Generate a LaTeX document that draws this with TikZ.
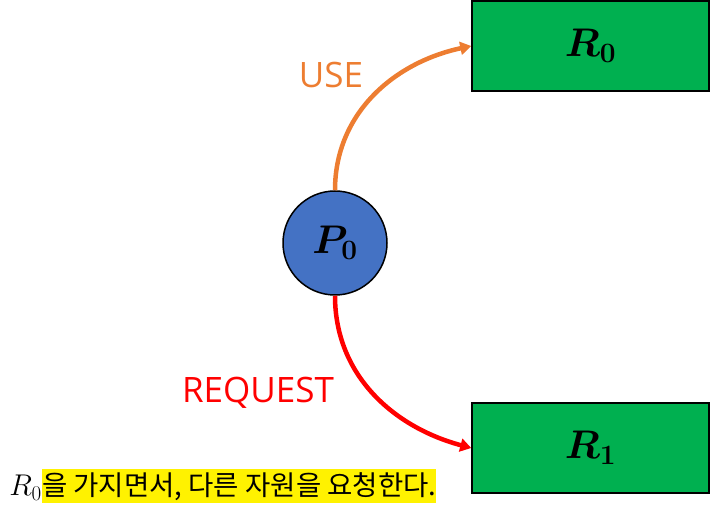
\RequirePackage{fix-cm}
\documentclass[tikz,border=0pt]{standalone}
\usepackage{amsmath}
\usepackage{amssymb}
\usepackage{fontspec}
\setsansfont{Open Sans}
\newfontfamily\kofont{Noto Sans CJK KR}
\usepackage{tikz}
\usetikzlibrary{arrows.meta}
\definecolor{useorange}{HTML}{ED7D31}
\definecolor{reqred}{HTML}{FF0000}
\definecolor{procblue}{HTML}{4472C4}
\definecolor{resgreen}{HTML}{00B050}
\newcommand{\bigsize}{\fontsize{40}{44}\selectfont}

\begin{document}
\begin{tikzpicture}[x=1pt,y=1pt,
  res/.style={draw,line width=1.5pt,fill=resgreen,minimum width=237pt,minimum height=90pt,inner sep=0pt},
  edge/.style={line width=4.5pt,-{Triangle[length=11pt,width=13pt]}}]
\useasboundingbox (0,0) rectangle (710,517);
\node[circle,draw,line width=1.5pt,fill=procblue,minimum size=104pt,inner sep=0pt] (p0) at (335,274) {\bigsize$\boldsymbol{P_0}$};
\node[res] (r0) at (590.5,471) {\bigsize$\boldsymbol{R_0}$};
\node[res] (r1) at (590.5,69) {\bigsize$\boldsymbol{R_1}$};
\draw[edge,useorange] (p0.north) to[out=90,in=192] (r0.west);
\draw[edge,reqred] (p0.south) to[out=-90,in=165] (r1.west);
\node[text=useorange,font=\sffamily\fontsize{35}{40}\selectfont] (use) at (331,442) {USE};
\node[text=reqred,font=\sffamily\fontsize{35}{40}\selectfont] (req) at (258,124) {REQUEST};
\node[anchor=base west,fill=yellow,inner sep=0pt,text height=27pt,text depth=7pt] (note) at (42,21)
  {\kofont\fontsize{27.5}{32}\selectfont 을 가지면서, 다른 자원을 요청한다.};
\node[anchor=base east,inner sep=0pt] (noter) at (note.base west) {\fontsize{30}{34}\selectfont$R_0$};
\end{tikzpicture}
\end{document}
